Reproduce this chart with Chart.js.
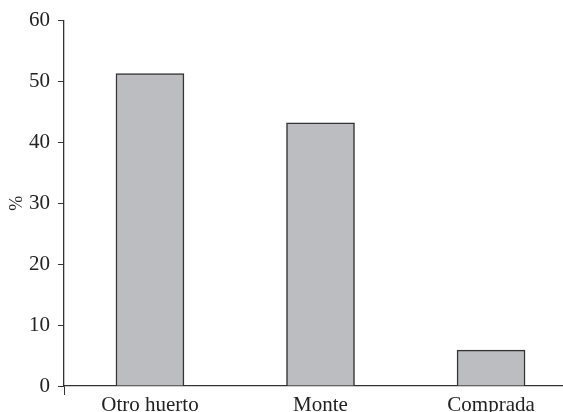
<!DOCTYPE html><html><head>
    <title>Origen</title>
    <style>
        html, body { margin: 0; padding: 0; background: #ffffff; }
        canvas { display: block; }
    </style>
</head>
<body>
    <canvas id="chart" width="563" height="412"></canvas>
    <script src="https://cdn.jsdelivr.net/npm/chart.js"></script>
    <script>
        // data
        const categories = ['Otro huerto', 'Monte', 'Comprada'];
        const values = [51.3, 43.2, 5.9];
        const yTicks = [0, 10, 20, 30, 40, 50, 60];

        const xMin = -0.504;
        const xMax = 2.416;

        Chart.defaults.font.family = "'Liberation Serif', 'Times New Roman', serif";
        Chart.defaults.font.size = 21;
        Chart.defaults.color = '#222222';

        const points = categories.map(function(c, i) { return { x: i, y: values[i] }; });

        const ctx = document.getElementById('chart').getContext('2d');
        const chart = new Chart(ctx, {
            type: 'bar',
            data: {
                datasets: [{
                    data: points,
                    backgroundColor: '#bcbdc1',
                    borderColor: '#333333',
                    borderWidth: 1.5,
                    barThickness: 68
                }]
            },
            options: {
                responsive: false,
                animation: false,
                layout: { padding: { top: 20, right: 1, bottom: 0, left: 0 } },
                plugins: {
                    legend: { display: false },
                    tooltip: { enabled: false }
                },
                scales: {
                    x: {
                        type: 'linear',
                        offset: false,
                        min: xMin,
                        max: xMax,
                        afterBuildTicks: function(scale) {
                            scale.ticks = [{ value: xMin }].concat(categories.map(function(c, i) { return { value: i }; }));
                        },
                        ticks: {
                            autoSkip: false,
                            maxRotation: 0,
                            padding: 0,
                            font: { size: 21, lineHeight: 1 },
                            callback: function(value) { return categories[value] !== undefined ? categories[value] : ''; }
                        },
                        afterFit: function(scale) { scale.height = 26; },
                        grid: {
                            offset: false,
                            drawOnChartArea: false,
                            tickLength: 9,
                            color: function(c) { return c.tick && c.tick.value === xMin ? '#333333' : 'rgba(0,0,0,0)'; }
                        },
                        border: { color: '#333333', width: 1.3 }
                    },
                    y: {
                        min: 0,
                        max: 60,
                        afterBuildTicks: function(scale) {
                            scale.ticks = yTicks.map(function(v) { return { value: v }; });
                        },
                        afterFit: function(scale) { scale.width = 64; },
                        ticks: { padding: 8, font: { size: 21 } },
                        grid: { drawOnChartArea: false, tickLength: 6, color: '#333333' },
                        border: { color: '#333333', width: 1.3 },
                        title: { display: true, text: '%', font: { size: 18 }, padding: { top: 6, bottom: 0 } }
                    }
                }
            }
        });
    </script>
</body></html>
